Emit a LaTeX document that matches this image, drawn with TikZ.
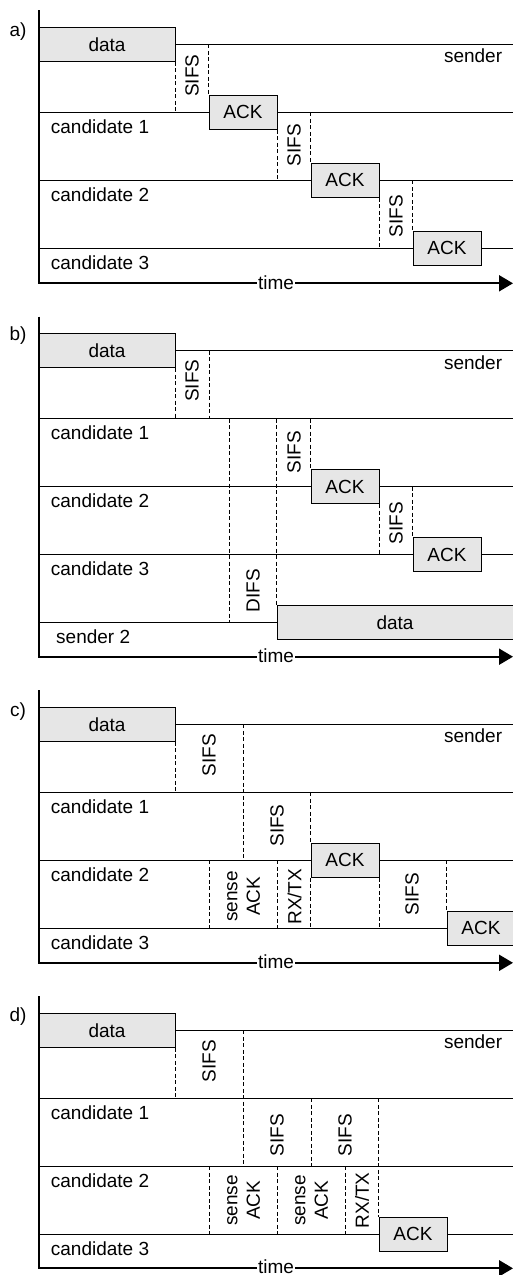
\documentclass[tikz,border=0pt]{standalone}
\usepackage{fontspec}
\setmainfont{Liberation Sans}
\usetikzlibrary{arrows.meta}
\definecolor{boxgray}{RGB}{230,230,230}

\begin{document}
\begin{tikzpicture}[x=1pt,y=-1pt,
  font=\fontsize{19}{22.5}\selectfont,
  lane/.style={line width=1pt},
  gap/.style={line width=0.8pt, dash pattern=on 4pt off 2.5pt},
  axis/.style={line width=2pt, -{Triangle[length=14pt,width=16pt]}},
  frame/.style={draw, fill=boxgray, line width=1pt, inner sep=0pt, minimum height=34pt},
  ackbox/.style={frame, minimum width=68pt},
  databox/.style={frame, minimum width=136pt},
  longbox/.style={frame, minimum width=238pt},
  span/.style={rotate=90, inner sep=0pt, align=center},
  tag/.style={anchor=base west, inner sep=0pt},
  owner/.style={anchor=base east, inner sep=0pt},
  panel/.style={inner sep=0pt},
  timelbl/.style={fill=white, inner sep=0.6pt}]

\useasboundingbox (0,0) rectangle (513,1275);
\clip (0,0) rectangle (513,1275);

% ---------------- a) sequential ACKs ----------------
\begin{scope}[shift={(0,44.3)}]
  \coordinate (aTop) at (39,-34);
  \coordinate (aO) at (39,239);
  \coordinate (aEnd) at (513,239);
  \coordinate (aS) at (513,0);
  \coordinate (a1L) at (39,68);  \coordinate (a1R) at (513,68);
  \coordinate (a2L) at (39,136); \coordinate (a2R) at (513,136);
  \coordinate (a3L) at (39,204); \coordinate (a3R) at (513,204);
  \node[panel] (aTag) at (18,-13) {a)};
  \node[databox] (aData) at (107,0) {data};
  \draw[lane] (aData.east) -- (aS);
  \draw[lane] (a1L) -- (a1R);
  \draw[lane] (a2L) -- (a2R);
  \draw[lane] (a3L) -- (a3R);
  \node[ackbox] (aAck1) at (243,68) {ACK};
  \node[ackbox] (aAck2) at (345,136) {ACK};
  \node[ackbox] (aAck3) at (447,204) {ACK};
  \draw[gap] (aData.south east) -- (aData.south east |- a1L);
  \draw[gap] (aAck1.north west |- aS) -- (aAck1.north west);
  \draw[gap] (aAck1.south east) -- (aAck1.south east |- a2L);
  \draw[gap] (aAck2.north west |- a1L) -- (aAck2.north west);
  \draw[gap] (aAck2.south east) -- (aAck2.south east |- a3L);
  \draw[gap] (aAck3.north west |- a2L) -- (aAck3.north west);
  \node[span] (aG1) at (192,31.4) {SIFS};
  \node[span] (aG2) at (294,101) {SIFS};
  \node[span] (aG3) at (396,172) {SIFS};
  \node[owner] (aSnd) at (502.3,18.5) {sender};
  \node[tag] (aC1) at (50.7,89) {candidate 1};
  \node[tag] (aC2) at (50.7,157) {candidate 2};
  \node[tag] (aC3) at (50.7,225) {candidate 3};
  \draw[axis] (aTop) -- (aO) -- (aEnd);
  \node[timelbl] (aTime) at (276,238) {time};
\end{scope}

% ---------------- b) second sender takes the medium ----------------
\begin{scope}[shift={(0,350.7)}]
  \coordinate (bTop) at (39,-34);
  \coordinate (bO) at (39,306);
  \coordinate (bEnd) at (513,306);
  \coordinate (bS) at (513,0);
  \coordinate (b1L) at (39,68);  \coordinate (b1R) at (513,68);
  \coordinate (b2L) at (39,136); \coordinate (b2R) at (513,136);
  \coordinate (b3L) at (39,204); \coordinate (b3R) at (513,204);
  \coordinate (b4L) at (39,272);
  \coordinate (bDifs) at (229,68);
  \node[panel] (bTag) at (18,-15) {b)};
  \node[databox] (bData) at (107,0) {data};
  \draw[lane] (bData.east) -- (bS);
  \draw[lane] (b1L) -- (b1R);
  \draw[lane] (b2L) -- (b2R);
  \draw[lane] (b3L) -- (b3R);
  \node[longbox] (bData2) at (396,272) {};
  \node[inner sep=0pt] (bData2t) at (395,272) {data};
  \draw[lane] (b4L) -- (bData2.west);
  \node[ackbox] (bAck1) at (345,136) {ACK};
  \node[ackbox] (bAck2) at (447,204) {ACK};
  \draw[gap] (bData.south east) -- (bData.south east |- b1L);
  \draw[gap] (209,0) -- (209,68);
  \draw[gap] (bDifs) -- (bDifs |- b4L);
  \draw[gap] (bData2.north west |- b1L) -- (bData2.north west);
  \draw[gap] (bAck1.north west |- b1L) -- (bAck1.north west);
  \draw[gap] (bAck1.south east) -- (bAck1.south east |- b3L);
  \draw[gap] (bAck2.north west |- b2L) -- (bAck2.north west);
  \node[span] (bG1) at (192,30) {SIFS};
  \node[span] (bG2) at (294,101.5) {SIFS};
  \node[span] (bG3) at (396,172.6) {SIFS};
  \node[span] (bG4) at (253,240) {DIFS};
  \node[owner] (bSnd) at (502.3,18.5) {sender};
  \node[tag] (bC1) at (50.7,89) {candidate 1};
  \node[tag] (bC2) at (50.7,157) {candidate 2};
  \node[tag] (bC3) at (50.7,225) {candidate 3};
  \node[tag] (bSnd2) at (56,292.4) {sender 2};
  \draw[axis] (bTop) -- (bO) -- (bEnd);
  \node[timelbl] (bTime) at (276,305) {time};
\end{scope}

% ---------------- c) sensing the ACK of candidate 1 ----------------
\begin{scope}[shift={(0,724.3)}]
  \coordinate (cTop) at (39,-34);
  \coordinate (cO) at (39,238.5);
  \coordinate (cEnd) at (513,238.5);
  \coordinate (cS) at (513,0);
  \coordinate (c1L) at (39,68);  \coordinate (c1R) at (513,68);
  \coordinate (c2L) at (39,136); \coordinate (c2R) at (513,136);
  \coordinate (c3L) at (39,204); \coordinate (c3R) at (513,204);
  \node[panel] (cTag) at (18,-13) {c)};
  \node[databox] (cData) at (107,0) {data};
  \draw[lane] (cData.east) -- (cS);
  \draw[lane] (c1L) -- (c1R);
  \draw[lane] (c2L) -- (c2R);
  \draw[lane] (c3L) -- (c3R);
  \node[ackbox] (cAck1) at (345,136) {ACK};
  \node[ackbox] (cAck2) at (481,204) {ACK};
  \draw[gap] (cData.south east) -- (cData.south east |- c1L);
  \draw[gap] (243,0) -- (243,136);
  \draw[gap] (cAck1.north west |- c1L) -- (cAck1.north west);
  \draw[gap] (209,136) -- (209,204);
  \draw[gap] (277,136) -- (277,204);
  \draw[gap] (cAck1.south west) -- (cAck1.south west |- c3L);
  \draw[gap] (cAck1.south east) -- (cAck1.south east |- c3L);
  \draw[gap] (cAck2.north west |- c2L) -- (cAck2.north west);
  \node[span] (cG1) at (209,31) {SIFS};
  \node[span] (cG2) at (277,101.2) {SIFS};
  \node[span] (cG3) at (243.5,172) {sense\\ACK};
  \node[span] (cG4) at (294.5,172.4) {RX/TX};
  \node[span] (cG5) at (412,170) {SIFS};
  \node[owner] (cSnd) at (502.3,18.5) {sender};
  \node[tag] (cC1) at (50.7,89) {candidate 1};
  \node[tag] (cC2) at (50.7,157) {candidate 2};
  \node[tag] (cC3) at (50.7,225) {candidate 3};
  \draw[axis] (cTop) -- (cO) -- (cEnd);
  \node[timelbl] (cTime) at (276,237.5) {time};
\end{scope}

% ---------------- d) sensing two earlier ACK slots ----------------
\begin{scope}[shift={(0,1030.3)}]
  \coordinate (dTop) at (39,-34);
  \coordinate (dO) at (39,238);
  \coordinate (dEnd) at (513,238);
  \coordinate (dS) at (513,0);
  \coordinate (d1L) at (39,68);  \coordinate (d1R) at (513,68);
  \coordinate (d2L) at (39,136); \coordinate (d2R) at (513,136);
  \coordinate (d3L) at (39,204); \coordinate (d3R) at (513,204);
  \node[panel] (dTag) at (18,-13.6) {d)};
  \node[databox] (dData) at (107,0) {data};
  \draw[lane] (dData.east) -- (dS);
  \draw[lane] (d1L) -- (d1R);
  \draw[lane] (d2L) -- (d2R);
  \draw[lane] (d3L) -- (d3R);
  \node[ackbox] (dAck) at (413,204) {ACK};
  \draw[gap] (dData.south east) -- (dData.south east |- d1L);
  \draw[gap] (243,0) -- (243,136);
  \draw[gap] (311,68) -- (311,136);
  \draw[gap] (dAck.north west |- d1L) -- (dAck.north west);
  \draw[gap] (209,136) -- (209,204);
  \draw[gap] (277,136) -- (277,204);
  \draw[gap] (345,136) -- (345,204);
  \node[span] (dG1) at (209,31) {SIFS};
  \node[span] (dG2) at (277,104.7) {SIFS};
  \node[span] (dG3) at (345,104.7) {SIFS};
  \node[span] (dG4) at (243.5,170) {sense\\ACK};
  \node[span] (dG5) at (311.5,170) {sense\\ACK};
  \node[span] (dG6) at (362,170) {RX/TX};
  \node[owner] (dSnd) at (502.3,18.5) {sender};
  \node[tag] (dC1) at (50.7,89) {candidate 1};
  \node[tag] (dC2) at (50.7,157) {candidate 2};
  \node[tag] (dC3) at (50.7,225) {candidate 3};
  \draw[axis] (dTop) -- (dO) -- (dEnd);
  \node[timelbl] (dTime) at (276,236) {time};
\end{scope}
\end{tikzpicture}
\end{document}
